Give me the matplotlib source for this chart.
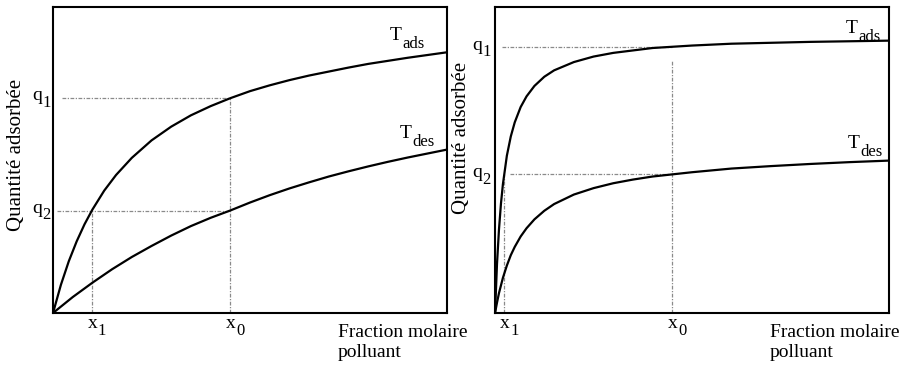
import matplotlib
matplotlib.use("Agg")
import matplotlib.pyplot as plt
from matplotlib.transforms import offset_copy

plt.rcParams['font.family'] = ['Liberation Serif', 'DejaVu Serif']

# --- values (x and y in 0..100 of each frame) ---
# left panel: slow isotherms
left_x_ads = [0, 2, 4, 6, 8, 10, 13, 16, 20, 25, 30, 35, 40, 45, 50, 55, 60, 65, 70, 75, 80, 85, 90, 95, 100]
left_y_ads = [0, 9.2, 16.9, 23.4, 29.0, 33.8, 40.0, 45.1, 50.7, 56.4, 60.9, 64.6, 67.6, 70.2,
              72.5, 74.4, 76.1, 77.6, 78.9, 80.2, 81.4, 82.4, 83.4, 84.3, 85.2]
left_x_des = [0, 5, 10, 15, 20, 25, 30, 35, 40, 45, 50, 55, 60, 65, 70, 75, 80, 85, 90, 95, 100]
left_y_des = [0, 5.2, 9.9, 14.3, 18.3, 21.9, 25.3, 28.4, 31.1, 33.5, 36.1, 38.5, 40.7, 42.7,
              44.6, 46.3, 47.9, 49.4, 50.8, 52.1, 53.4]
left_x1, left_x0 = 9.8, 44.9
left_q1, left_q2 = 70.2, 33.4

# right panel: steep isotherms
right_x_ads = [0, 0.5, 1, 1.5, 2, 3, 4, 5, 6.5, 8, 10, 12.5, 15, 20, 25, 30, 40, 50, 60, 70, 80, 90, 100]
right_y_ads = [0, 16.1, 27.3, 35.7, 42.1, 51.4, 57.7, 62.3, 67.3, 70.8, 74.2, 77.2, 79.3, 82.0,
               83.8, 85.0, 86.6, 87.4, 88.0, 88.3, 88.6, 88.8, 89.0]
right_x_des = [0, 0.5, 1, 2, 3, 4, 5, 6.5, 8, 10, 12.5, 15, 20, 25, 30, 35, 40, 45, 50, 60, 70, 80, 90, 100]
right_y_des = [0, 3.4, 6.5, 11.5, 15.5, 18.9, 21.6, 25.0, 27.7, 30.6, 33.4, 35.6, 38.7, 40.8,
               42.4, 43.6, 44.6, 45.3, 46.0, 47.2, 48.0, 48.7, 49.3, 49.8]
right_x1, right_x0 = 2.3, 44.9
right_q1, right_q2 = 87.0, 45.3

panels = [
    dict(rect=[0.0582, 0.1495, 0.4325, 0.8315],
         xa=left_x_ads, ya=left_y_ads, xd=left_x_des, yd=left_y_des,
         x1=left_x1, x0=left_x0, q1=left_q1, q2=left_q2,
         q1_start=2.3, q2_start=1.0, x0_top=left_q1, x1_top=left_q2,
         tads=(86.0, 89.2), tdes=(88.6, 57.2), qdx=-15, qdy=-1.5,
         ylab=(-0.093, 0.515), flab_x=0.723),
    dict(rect=[0.5434, 0.1495, 0.4325, 0.8315],
         xa=right_x_ads, ya=right_y_ads, xd=right_x_des, yd=right_y_des,
         x1=right_x1, x0=right_x0, q1=right_q1, q2=right_q2,
         q1_start=1.8, q2_start=3.8, x0_top=82.7, x1_top=right_q2,
         tads=(89.6, 91.5), tdes=(90.1, 53.9), qdx=-16.5, qdy=-2.2,
         ylab=(-0.085, 0.572), flab_x=0.698),
]

fig = plt.figure(figsize=(9.11, 3.68), dpi=100)
guide = dict(color='#8a8a8a', lw=0.9, linestyle=(0, (3, 1.2, 1, 1.2)))


def sub_label(ax, x, y, base, sub, trans, dx=0, dy=0, sub_dx=7, sub_dy=-5, size=14, sub_size=11):
    # base letter + subscript as two texts, offsets in points
    t0 = offset_copy(trans, fig=fig, x=dx, y=dy, units='points')
    ax.text(x, y, base, fontsize=size, ha='left', va='baseline', transform=t0)
    t1 = offset_copy(trans, fig=fig, x=dx + sub_dx, y=dy + sub_dy, units='points')
    ax.text(x, y, sub, fontsize=sub_size, ha='left', va='baseline', transform=t1)


for p in panels:
    ax = fig.add_axes(p['rect'])
    ax.set_xlim(0, 100)
    ax.set_ylim(0, 100)
    ax.set_xticks([])
    ax.set_yticks([])
    for s in ax.spines.values():
        s.set_linewidth(1.5)

    # guide lines
    ax.plot([p['q1_start'], p['x0']], [p['q1'], p['q1']], **guide)
    ax.plot([p['q2_start'], p['x0']], [p['q2'], p['q2']], **guide)
    ax.plot([p['x0'], p['x0']], [0, p['x0_top']], **guide)
    ax.plot([p['x1'], p['x1']], [0, p['x1_top']], **guide)

    # isotherms
    ax.plot(p['xa'], p['ya'], color='black', lw=1.6, solid_joinstyle='round')
    ax.plot(p['xd'], p['yd'], color='black', lw=1.6, solid_joinstyle='round')

    sub_label(ax, *p['tads'], 'T', 'ads', ax.transData, dx=-1.5, sub_dx=8.8, sub_dy=-5.8, sub_size=12)
    sub_label(ax, *p['tdes'], 'T', 'des', ax.transData, dx=-1.5, sub_dx=8.8, sub_dy=-5.8, sub_size=12)

    tr = ax.get_yaxis_transform()
    for q, s in [(p['q1'], '1'), (p['q2'], '2')]:
        sub_label(ax, 0, q, 'q', s, tr, dx=p['qdx'], dy=p['qdy'], sub_dx=7.5, sub_dy=-4.5, sub_size=12)

    trx = ax.get_xaxis_transform()
    for xv, s in [(p['x1'], '1'), (p['x0'], '0')]:
        sub_label(ax, xv, 0, 'x', s, trx, dx=-3, dy=-11, sub_dx=7.3, sub_dy=-5, sub_size=12)

    ax.text(p['flab_x'], -0.035, 'Fraction molaire\npolluant', fontsize=14, ha='left', va='top',
            linespacing=1.25, transform=ax.transAxes)
    ax.text(*p['ylab'], 'Quantité adsorbée', fontsize=15, rotation=90, ha='center', va='center',
            transform=ax.transAxes)

fig.savefig('out.png', dpi=100)
